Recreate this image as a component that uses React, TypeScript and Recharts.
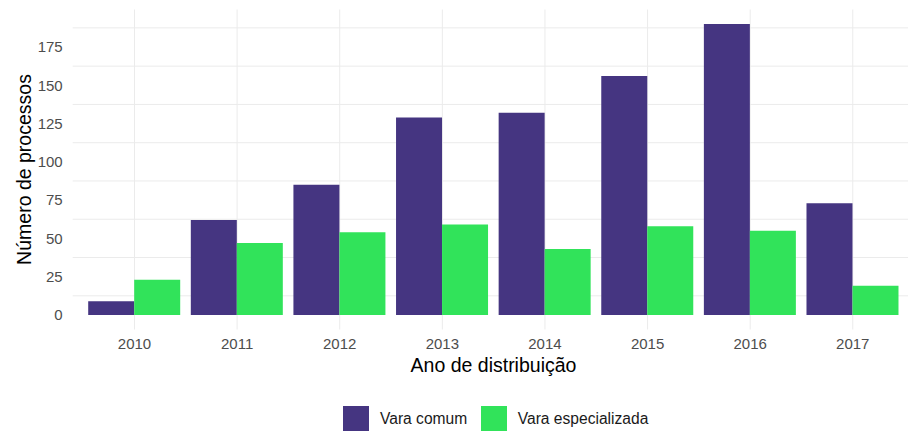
import React from 'react';
import { BarChart, Bar, XAxis, YAxis, CartesianGrid, Legend } from 'recharts';

const years = ['2010', '2011', '2012', '2013', '2014', '2015', '2016', '2017'];
const varaComum = [9, 62, 85, 129, 132, 156, 190, 73];
const varaEspecializada = [23, 47, 54, 59, 43, 58, 55, 19];
const yTicks = [0, 25, 50, 75, 100, 125, 150, 175];
const gridValues = [0, 12.5, 25, 37.5, 50, 62.5, 75, 87.5, 100, 112.5, 125, 137.5, 150, 162.5, 175, 187.5];

const series = [
  { key: 'comum', name: 'Vara comum', color: '#453581' },
  { key: 'especializada', name: 'Vara especializada', color: '#31E35A' },
];

const data = years.map((year, i) => ({
  year,
  comum: varaComum[i],
  especializada: varaEspecializada[i],
}));

const font = '"Liberation Sans", Arial, sans-serif';
const xPad = { left: 10.5, right: 3.9 };

// vertical grid only at the category centres, no lines on the panel edges
const centreLines = ({ offset }: any) => {
  if (!offset) return [];
  const start = offset.left + xPad.left;
  const band = (offset.width - xPad.left - xPad.right) / years.length;
  return years.map((_, i) => start + band * (i + 0.5));
};

const LegendBox = () => (
  <div style={{ display: 'flex', alignItems: 'center', fontFamily: font, fontSize: 15.6, color: '#1a1a1a' }}>
    {series.map((s) => (
      <div key={s.key} style={{ display: 'flex', alignItems: 'center', marginRight: 13.5 }}>
        <div style={{ width: 26, height: 26, background: s.color, marginRight: 11 }} />
        <span style={{ lineHeight: '26px' }}>{s.name}</span>
      </div>
    ))}
  </div>
);

export default function App() {
  return (
    <div style={{ position: 'absolute', top: 0, left: 0, width: 908, height: 431, background: '#fff' }}>
      <BarChart
        width={908}
        height={431}
        data={data}
        margin={{ top: 9.5, right: 0, bottom: 0, left: 0 }}
        barGap={0}
      >
        <CartesianGrid
          stroke="#EBEBEB"
          horizontalValues={gridValues}
          verticalCoordinatesGenerator={centreLines}
        />
        <XAxis
          dataKey="year"
          axisLine={false}
          tickLine={false}
          tickSize={0}
          tickMargin={9}
          height={101.5}
          padding={xPad}
          tick={{ fill: '#4D4D4D', fontSize: 15, fontFamily: font }}
        />
        <YAxis
          type="number"
          domain={[-9.5, 199.5]}
          ticks={yTicks}
          allowDataOverflow
          axisLine={false}
          tickLine={false}
          tickSize={0}
          tickMargin={10}
          width={72.7}
          tick={{ fill: '#4D4D4D', fontSize: 15, fontFamily: font }}
        />
        {series.map((s) => (
          <Bar key={s.key} dataKey={s.key} name={s.name} fill={s.color} barSize={46} isAnimationActive={false} />
        ))}
        <Legend
          verticalAlign="middle"
          align="center"
          content={<LegendBox />}
          wrapperStyle={{ top: 406, left: 343, width: 'auto', height: 26 }}
        />
        <text x={493.5} y={371.5} textAnchor="middle" fontSize={19.5} fontFamily={font} fill="#000">
          Ano de distribuição
        </text>
        <text
          x={31}
          y={169.5}
          textAnchor="middle"
          fontSize={19.5}
          fontFamily={font}
          fill="#000"
          transform="rotate(-90 31 169.5)"
        >
          Número de processos
        </text>
      </BarChart>
    </div>
  );
}
